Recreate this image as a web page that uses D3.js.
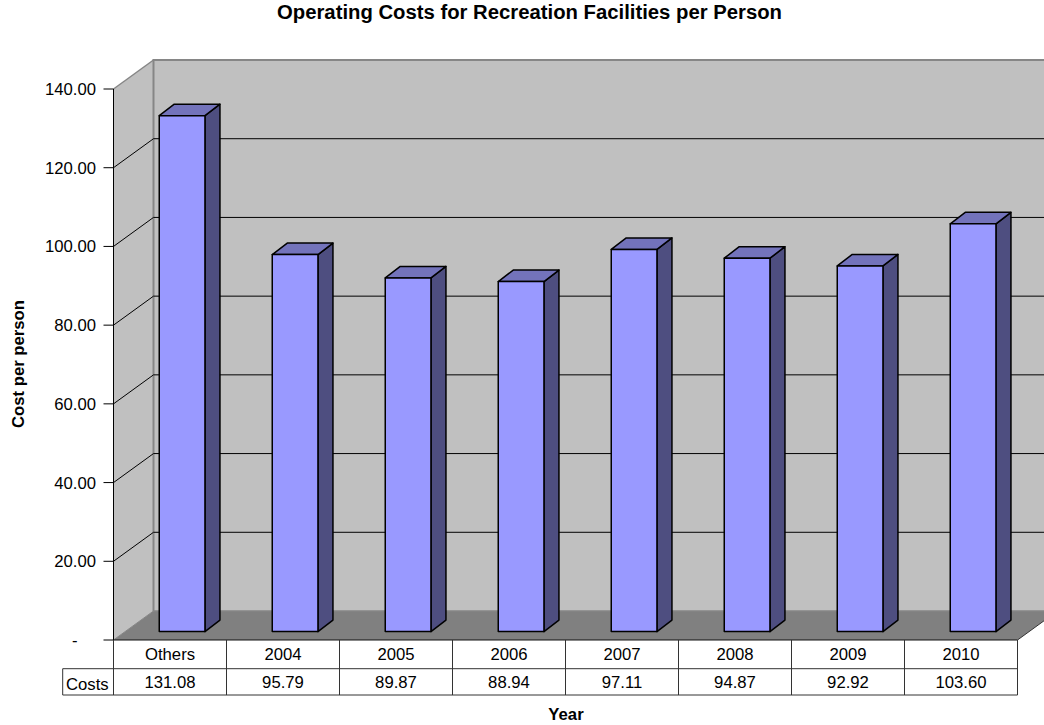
<!DOCTYPE html>
<html><head><meta charset="utf-8">
<script src="https://cdn.jsdelivr.net/npm/d3@7"></script>
<style>html,body{margin:0;padding:0;background:#fff}svg{display:block}text{font-family:"Liberation Sans",Arial,sans-serif;fill:#000}</style>
</head><body><svg id="c" width="1044" height="725"></svg>
<script>
const categories=["Others","2004","2005","2006","2007","2008","2009","2010"];
const costs=[131.08,95.79,89.87,88.94,97.11,94.87,92.92,103.60];
const costLabels=["131.08","95.79","89.87","88.94","97.11","94.87","92.92","103.60"];
const tickValues=[0,20,40,60,80,100,120,140];
const tickLabels=["-","20.00","40.00","60.00","80.00","100.00","120.00","140.00"];
const title="Operating Costs for Recreation Facilities per Person",xTitle="Year",yTitle="Cost per person",seriesName="Costs";

const svg=d3.select("#c");
const x=d3.scaleBand().domain(categories).range([113.5,1017.5]);
const y=d3.scaleLinear().domain([0,140]).range([640,89]);
const DX=40,DY=-29;          // wall depth
const bdx=15,bdy=-11.5;      // bar depth
const FS=16.7;
const barW=45.7, barOffX=x.bandwidth()/2-barW/2+(DX-bdx)/2-0.4;
const poly=(pts,fill)=>svg.append("path").attr("d",d3.line()(pts)+"Z").attr("fill",fill);
const L=x.range()[0],R=x.range()[1],y0=y(0),yT=y(140);

// walls & floor
poly([[L+DX,yT+DY],[1100,yT+DY],[1100,y0+DY],[L+DX,y0+DY]],"#c0c0c0");
poly([[L,yT],[L+DX,yT+DY],[L+DX,y0+DY],[L,y0]],"#c0c0c0");
poly([[L,y0],[L+DX,y0+DY],[R+DX,y0+DY],[R,y0]],"#808080");
const outline=(p,c,w)=>svg.append("path").attr("d",d3.line()(p)).attr("fill","none").attr("stroke",c).attr("stroke-width",w);
outline([[L+DX,y0+DY],[L+DX,yT+DY],[1044,yT+DY]],"#868686",2);
outline([[L,yT],[L+DX,yT+DY]],"#868686",1.5);
outline([[L+DX,y0+DY],[1044,y0+DY]],"#868686",1.5);
outline([[L,y0],[L+DX,y0+DY]],"#868686",1);
outline([[R,y0],[R+DX,y0+DY]],"#333",1);
// gridlines
svg.append("g").selectAll("path").data(tickValues.filter(v=>v>0&&v<140)).join("path")
 .attr("d",v=>d3.line()([[L,y(v)],[L+DX,y(v)+DY],[1044,y(v)+DY]])).attr("fill","none").attr("stroke","#000").attr("stroke-width",1);
// y axis
outline([[L,yT],[L,y0]],"#000",1);
svg.append("g").selectAll("line").data(tickValues).join("line")
 .attr("x1",L-10).attr("x2",L).attr("y1",d=>y(d)).attr("y2",d=>y(d)).attr("stroke","#000").attr("stroke-width",1);
svg.append("g").selectAll("text").data(tickValues).join("text")
 .attr("x",d=>d===0?72:96).attr("y",d=>y(d)+(d===0?6:6)).attr("text-anchor",d=>d===0?"start":"end").attr("font-size",FS).text((d,i)=>tickLabels[i]);
// bars
const bars=svg.append("g").selectAll("g").data(categories.map((c,i)=>({c,v:costs[i]}))).join("g");
bars.each(function(d){
  const g=d3.select(this);
  const x0=x(d.c)+barOffX, x1=x0+barW, b=y0-8.4, t=b-(y(0)-y(d.v));
  const p=(pts,f)=>g.append("path").attr("d",d3.line()(pts)+"Z").attr("fill",f).attr("stroke","#000").attr("stroke-width",1.5).attr("stroke-linejoin","round");
  p([[x1,t],[x1+bdx,t+bdy],[x1+bdx,b+bdy],[x1,b]],"#4e4e80");
  p([[x0,t],[x0+bdx,t+bdy],[x1+bdx,t+bdy],[x1,t]],"#7373bb");
  p([[x0,t],[x1,t],[x1,b],[x0,b]],"#9999ff");
});
// data table
const r1=668.7,r2=695,tc="#333";
const tl=(a,b,c,d,col)=>svg.append("line").attr("x1",a).attr("y1",b).attr("x2",c).attr("y2",d).attr("stroke",col||tc).attr("stroke-width",1);
tl(L,y0,R,y0,"#111");tl(62.7,r1,R,r1);tl(62.7,r2,R,r2);tl(62.7,r1,62.7,r2);
[...categories.map(c=>x(c)),R].forEach(v=>tl(v,y0,v,r2));
svg.append("g").selectAll("text").data(categories).join("text").attr("x",c=>x(c)+x.bandwidth()/2).attr("y",660).attr("text-anchor","middle").attr("font-size",FS).text(c=>c);
svg.append("g").selectAll("text").data(categories).join("text").attr("x",c=>x(c)+x.bandwidth()/2).attr("y",688).attr("text-anchor","middle").attr("font-size",FS).text((c,i)=>costLabels[i]);
svg.append("text").attr("x",66).attr("y",690).attr("font-size",FS).text(seriesName);
// titles
svg.append("text").attr("x",529.5).attr("y",18.5).attr("text-anchor","middle").attr("font-size",20.3).attr("font-weight","bold").text(title);
svg.append("text").attr("x",566).attr("y",720).attr("text-anchor","middle").attr("font-size",FS).attr("font-weight","bold").text(xTitle);
svg.append("text").attr("transform","translate(23.5,364) rotate(-90)").attr("text-anchor","middle").attr("font-size",FS).attr("font-weight","bold").text(yTitle);
</script></body></html>
